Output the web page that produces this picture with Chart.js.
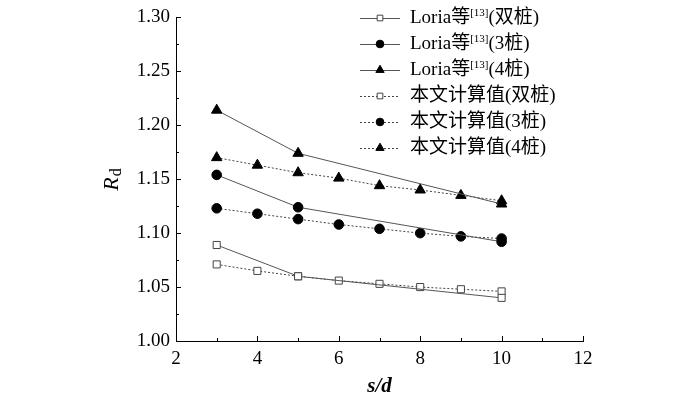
<!DOCTYPE html>
<html>
<head>
<meta charset="utf-8">
<script src="https://cdn.jsdelivr.net/npm/chart.js@4.4.1/dist/chart.umd.min.js"></script>
<style>
  html, body { margin: 0; background: #fff; }
  canvas { display: block; }
</style>
</head>
<body>
<canvas id="c" width="700" height="399"></canvas>
<script>
// s/d values
const sLoria = [3, 5, 10];
const sCalc = [3, 4, 5, 6, 7, 8, 9, 10];

// R_d values
const loria2 = [1.089, 1.060, 1.040];
const loria3 = [1.154, 1.124, 1.092];
const loria4 = [1.214, 1.174, 1.127];
const calc2 = [1.071, 1.065, 1.060, 1.056, 1.053, 1.050, 1.048, 1.046];
const calc3 = [1.123, 1.118, 1.113, 1.108, 1.104, 1.100, 1.097, 1.095];
const calc4 = [1.170, 1.163, 1.156, 1.151, 1.144, 1.140, 1.135, 1.130];

const xTicks = [2, 4, 6, 8, 10, 12];
const yTicks = [1.00, 1.05, 1.10, 1.15, 1.20, 1.25, 1.30];

// legend text: main, superscript, tail
const legendNames = [
  ["Loria等", "[13]", "(双桩)"],
  ["Loria等", "[13]", "(3桩)"],
  ["Loria等", "[13]", "(4桩)"],
  ["本文计算值(双桩)", "", ""],
  ["本文计算值(3桩)", "", ""],
  ["本文计算值(4桩)", "", ""]
];

const SERIF = "'Liberation Serif', 'Noto Sans CJK SC', serif";
const pts = (xs, ys) => xs.map((x, i) => ({ x: x, y: ys[i] }));

function series(xs, ys, style, dotted) {
  const open = style === "rect";
  return {
    data: pts(xs, ys),
    borderColor: dotted ? "#444" : "#555",
    borderWidth: 1,
    borderDash: dotted ? [2, 2] : [],
    pointStyle: style,
    pointRadius: style === "triangle" ? 6 : (style === "rect" ? 5 : 4.8),
    pointBackgroundColor: open ? "#fff" : "#000",
    pointBorderColor: open ? "#444" : "#000",
    pointBorderWidth: 1,
    tension: 0
  };
}

const decor = {
  id: "decor",
  afterDraw(chart) {
    const ctx = chart.ctx;
    const xs = chart.scales.x, ys = chart.scales.y;
    const a = chart.chartArea;
    ctx.save();
    ctx.strokeStyle = "#000";
    ctx.lineWidth = 1;
    ctx.beginPath();
    // inward ticks on x
    const xt = xs.ticks.map(t => t.value);
    xt.forEach((v, i) => {
      const px = Math.round(xs.getPixelForValue(v)) + 0.5;
      ctx.moveTo(px, a.bottom); ctx.lineTo(px, a.bottom - 5);
      if (i < xt.length - 1) {
        const mx = Math.round(xs.getPixelForValue((v + xt[i + 1]) / 2)) + 0.5;
        ctx.moveTo(mx, a.bottom); ctx.lineTo(mx, a.bottom - 3);
      }
    });
    // inward ticks on y
    const yt = ys.ticks.map(t => t.value);
    yt.forEach((v, i) => {
      const py = Math.round(ys.getPixelForValue(v)) + 0.5;
      ctx.moveTo(a.left, py); ctx.lineTo(a.left + 5, py);
      if (i < yt.length - 1) {
        const my = Math.round(ys.getPixelForValue((v + yt[i + 1]) / 2)) + 0.5;
        ctx.moveTo(a.left, my); ctx.lineTo(a.left + 3, my);
      }
    });
    ctx.stroke();

    // y title R_d
    ctx.fillStyle = "#000";
    ctx.translate(112, 180);
    ctx.rotate(-Math.PI / 2);
    ctx.textBaseline = "middle";
    ctx.font = "italic 22px " + SERIF;
    const wR = ctx.measureText("R").width;
    ctx.font = "16px " + SERIF;
    const wd = ctx.measureText("d").width;
    const x0 = -(wR + wd) / 2;
    ctx.font = "italic 22px " + SERIF;
    ctx.fillText("R", x0, 0);
    ctx.font = "16px " + SERIF;
    ctx.fillText("d", x0 + wR + 1, 5);
    ctx.restore();

    // legend
    ctx.save();
    ctx.textBaseline = "middle";
    ctx.fillStyle = "#000";
    chart.data.datasets.forEach((ds, i) => {
      const y = 18 + i * 26;
      ctx.strokeStyle = ds.borderColor;
      ctx.lineWidth = 1;
      ctx.setLineDash(ds.borderDash);
      ctx.beginPath();
      ctx.moveTo(360, y + 0.5); ctx.lineTo(400, y + 0.5);
      ctx.stroke();
      ctx.setLineDash([]);
      ctx.fillStyle = ds.pointBackgroundColor;
      ctx.strokeStyle = ds.pointBorderColor;
      Chart.helpers.drawPoint(ctx, {
        pointStyle: ds.pointStyle,
        radius: ds.pointRadius * 0.8,
        rotation: 0,
        borderWidth: 1
      }, 380, y);
      ctx.fillStyle = "#000";
      const parts = legendNames[i];
      let x = 410;
      ctx.font = "19px " + SERIF;
      ctx.fillText(parts[0], x, y);
      x += ctx.measureText(parts[0]).width;
      if (parts[1]) {
        ctx.font = "11px " + SERIF;
        ctx.fillText(parts[1], x, y - 5);
        x += ctx.measureText(parts[1]).width;
      }
      if (parts[2]) {
        ctx.font = "19px " + SERIF;
        ctx.fillText(parts[2], x, y);
      }
    });
    ctx.restore();
  }
};

new Chart(document.getElementById("c"), {
  type: "line",
  data: {
    datasets: [
      series(sLoria, loria2, "rect", false),
      series(sLoria, loria3, "circle", false),
      series(sLoria, loria4, "triangle", false),
      series(sCalc, calc2, "rect", true),
      series(sCalc, calc3, "circle", true),
      series(sCalc, calc4, "triangle", true)
    ]
  },
  options: {
    responsive: false,
    animation: false,
    devicePixelRatio: 1,
    layout: { padding: { left: 0, right: 117, top: 15, bottom: 0 } },
    plugins: { legend: { display: false }, tooltip: { enabled: false } },
    scales: {
      x: {
        type: "linear",
        min: 2, max: 12,
        afterBuildTicks: s => { s.ticks = xTicks.map(v => ({ value: v })); },
        afterFit: s => { s.height = 58; },
        grid: { display: false, drawTicks: false },
        border: { display: true, color: "#000", width: 1 },
        ticks: { color: "#000", padding: 7, font: { family: SERIF, size: 19 }, maxRotation: 0 },
        title: {
          display: true, text: "s/d", color: "#000", padding: { top: 2, bottom: 0 },
          font: { family: SERIF, size: 21, style: "italic", weight: "bold" }
        }
      },
      y: {
        type: "linear",
        min: 1.0, max: 1.3,
        afterBuildTicks: s => { s.ticks = yTicks.map(v => ({ value: v })); },
        afterFit: s => { s.width = 176; },
        grid: { display: false, drawTicks: false },
        border: { display: true, color: "#000", width: 1 },
        ticks: {
          color: "#000", padding: 6, font: { family: SERIF, size: 19 },
          callback: v => v.toFixed(2)
        }
      }
    }
  },
  plugins: [decor]
});
</script>
</body>
</html>
